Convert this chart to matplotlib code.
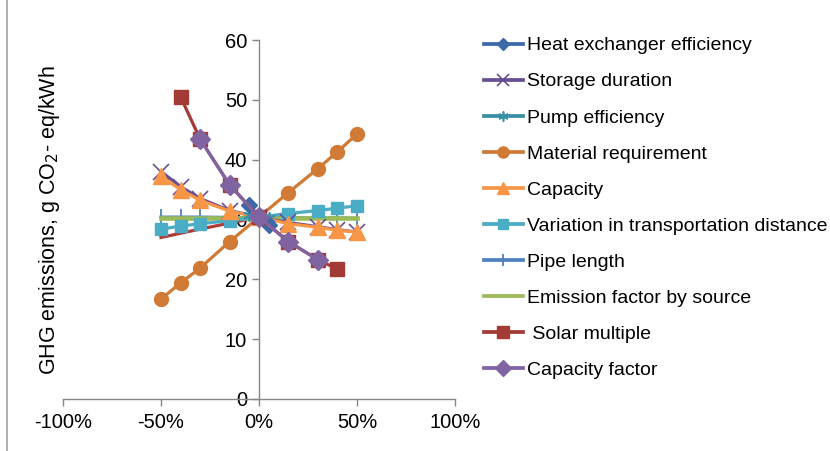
import matplotlib.pyplot as plt
from matplotlib.lines import Line2D

plt.rcParams['font.family'] = ['Liberation Sans', 'DejaVu Sans']

# sensitivity changes (fraction) and GHG emissions (g CO2-eq/kWh)
x_full = [-0.5, -0.4, -0.3, -0.15, 0, 0.15, 0.3, 0.4, 0.5]
x_hx = [-0.05, 0, 0.05]
x_pump = [-0.05, 0, 0.05]
x_solar = [-0.4, -0.3, -0.15, 0, 0.15, 0.3, 0.4]
x_cf = [-0.3, -0.15, 0, 0.15, 0.3]
x_extra = [-0.5, -0.4, -0.3, -0.15, 0]

heat_exchanger = [32.5, 30.4, 29.0]
storage_duration = [38.0, 35.5, 33.5, 31.5, 30.4, 29.5, 28.8, 28.3, 27.9]
pump_efficiency = [30.7, 30.4, 30.2]
material_req = [16.7, 19.4, 21.9, 26.3, 30.4, 34.5, 38.5, 41.3, 44.3]
capacity = [37.2, 35.0, 33.2, 31.4, 30.4, 29.3, 28.7, 28.2, 27.9]
transport = [28.4, 28.9, 29.3, 29.8, 30.4, 31.0, 31.5, 31.9, 32.3]
pipe_length = [30.4, 30.4, 30.4, 30.35, 30.3, 30.3, 30.25, 30.25, 30.2]
emission_factor = [30.3, 30.3, 30.3, 30.3, 30.3, 30.3, 30.3, 30.3, 30.3]
solar_multiple = [50.5, 43.4, 35.8, 30.4, 26.3, 23.3, 21.7]
capacity_factor = [43.4, 35.8, 30.4, 26.3, 23.3]
extra_line = [27.0, 27.7, 28.4, 29.4, 30.4]

fig = plt.figure(figsize=(8.3, 4.51), dpi=100)
ax = fig.add_axes([63 / 830, (451 - 399) / 451, 392 / 830, 359 / 451])

lw = 2.3
ax.plot(x_extra, extra_line, color='#B23A37', lw=lw, zorder=2)
ax.plot(x_full, pipe_length, color='#4F81BD', lw=lw, marker='|', ms=11,
        mew=1.3, label='Pipe length', zorder=2.5)
ax.plot(x_full, emission_factor, color='#9BBB59', lw=lw + 1,
        label='Emission factor by source', zorder=3)
ax.plot(x_full, transport, color='#4BACC6', lw=lw, marker='s', ms=9,
        label='Variation in transportation distance', zorder=4)
ax.plot(x_full, material_req, color='#D07A35', lw=lw, marker='o', ms=10,
        label='Material requirement', zorder=4)
ax.plot(x_full, storage_duration, color='#6A4E94', lw=lw, marker='x', ms=11,
        mew=1.2, label='Storage duration', zorder=4)
ax.plot(x_full, capacity, color='#F79646', lw=lw, marker='^', ms=11,
        label='Capacity', zorder=5)
ax.plot(x_pump, pump_efficiency, color='#3A8FA8', lw=lw, marker=(6, 2, 0),
        ms=9, mew=1.2, label='Pump efficiency', zorder=5)
ax.plot(x_hx, heat_exchanger, color='#3D6AA7', lw=lw, marker='D', ms=8,
        label='Heat exchanger efficiency', zorder=5)
ax.plot(x_solar, solar_multiple, color='#A23B36', lw=lw, marker='s', ms=10,
        label=' Solar multiple', zorder=6)
ax.plot(x_cf, capacity_factor, color='#8064A2', lw=lw, marker='D', ms=10,
        label='Capacity factor', zorder=7)

ax.set_xlim(-1, 1)
ax.set_ylim(0, 60)
ax.set_xticks([-1, -0.5, 0, 0.5, 1])
ax.set_xticklabels(['-100%', '-50%', '0%', '50%', '100%'])
ax.set_yticks(range(0, 61, 10))

ax.spines['top'].set_visible(False)
ax.spines['right'].set_visible(False)
ax.spines['left'].set_position(('data', 0))
for s in ['left', 'bottom']:
    ax.spines[s].set_color('#868686')
    ax.spines[s].set_linewidth(1)
ax.tick_params(axis='both', colors='#868686', labelcolor='black',
               labelsize=14.5, length=5, width=1)
ax.tick_params(axis='x', pad=5)

fig.text(49 / 830, 0.512, 'GHG emissions, g CO$_2$- eq/kWh', rotation=90,
         ha='center', va='center', fontsize=15.5)

order = ['Heat exchanger efficiency', 'Storage duration', 'Pump efficiency',
         'Material requirement', 'Capacity',
         'Variation in transportation distance', 'Pipe length',
         'Emission factor by source', ' Solar multiple', 'Capacity factor']
handles, labels = ax.get_legend_handles_labels()
lookup = dict(zip(labels, handles))
leg_handles = []
for name in order:
    h = lookup[name]
    leg_handles.append(Line2D([], [], color=h.get_color(), lw=lw + 0.4,
                              marker=h.get_marker(),
                              ms=h.get_markersize() * 0.8,
                              mew=h.get_markeredgewidth()))
fig.legend(leg_handles, order, loc='upper left',
           bbox_to_anchor=(476 / 830, 1 - 29 / 451), frameon=False,
           fontsize=14, handlelength=2.0, handletextpad=0.2,
           labelspacing=0.95, numpoints=1, borderaxespad=0)

fig.add_artist(Line2D([7 / 830, 7 / 830], [0, 1], color='#A0A0A0', lw=1.2,
                      transform=fig.transFigure))

fig.savefig('out.png', dpi=100)
